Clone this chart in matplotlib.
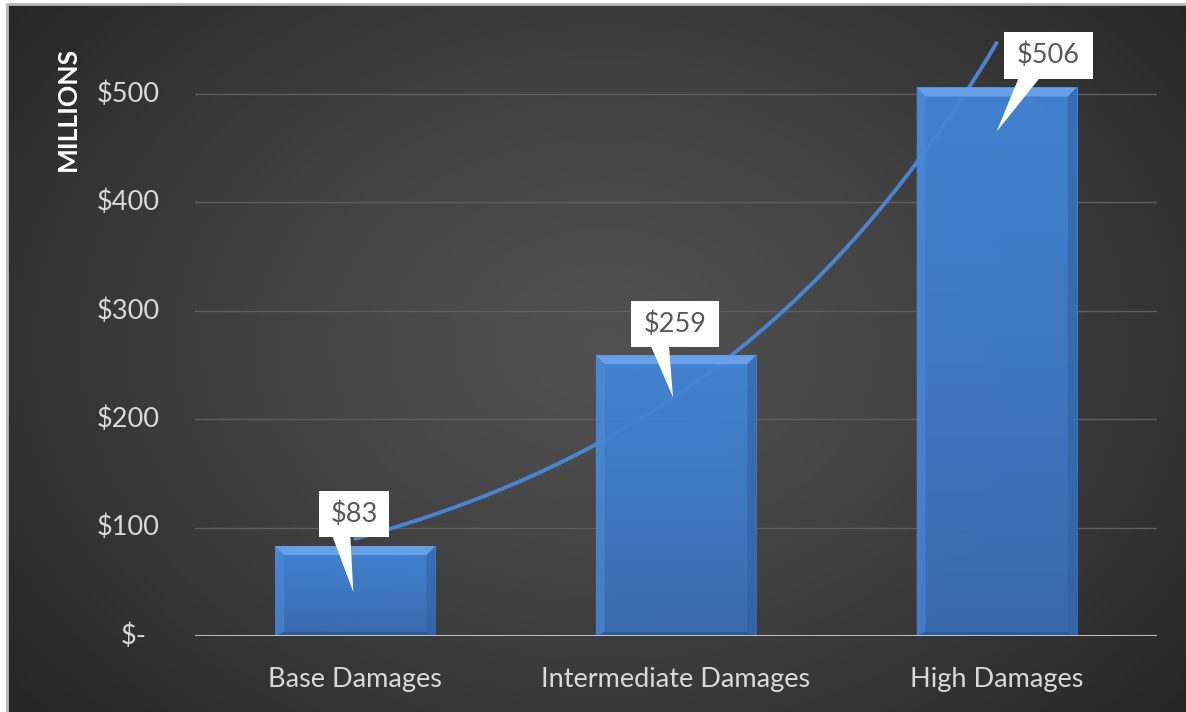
import numpy as np
import matplotlib
matplotlib.use("Agg")
import matplotlib.pyplot as plt
from matplotlib.patches import Polygon, Rectangle
from matplotlib.transforms import IdentityTransform, offset_copy
from matplotlib.colors import LinearSegmentedColormap

# ---- data ----
categories = ["Base Damages", "Intermediate Damages", "High Damages"]
damages = [83, 259, 506]          # $ millions
value_labels = ["$83", "$259", "$506"]
y_ticks = [0, 100, 200, 300, 400, 500]
y_tick_labels = ["$-", "$100", "$200", "$300", "$400", "$500"]

W, H, DPI = 1186, 712, 100
plt.rcParams["font.family"] = ["Lato", "DejaVu Sans"]
FS = 19.5

fig = plt.figure(figsize=(W / DPI, H / DPI), dpi=DPI, facecolor="white")

# ---- radial dark background with thin frame ----
bg = fig.add_axes([0, 0, 1, 1], zorder=0)
bg.set_xlim(0, W)
bg.set_ylim(H, 0)
bg.axis("off")
yy, xx = np.mgrid[0:H, 0:W]
r = np.sqrt(((xx - 600) / 760.0) ** 2 + ((yy - 340) / 560.0) ** 2)
r = np.clip(r, 0, 1)
shade = 0.315 - 0.165 * r ** 1.3
img = np.dstack([shade, shade, shade])
bg.imshow(img, extent=(7, W, H, 4), interpolation="bilinear", aspect="auto")
bg.plot([6.5, 6.5, W], [H, 3.5, 3.5], color="#b8b8b8", lw=2.0)

# ---- main axes ----
ymax = 560
ax = fig.add_axes([195 / W, (H - 636) / H, (1157 - 195) / W, ymax * 1.084 / H], zorder=1)
ax.set_facecolor("none")
ax.set_xlim(-0.5, len(categories) - 0.5)
ax.set_ylim(0, ymax)
for s in ax.spines.values():
    s.set_visible(False)

ax.set_yticks(y_ticks)
ax.set_yticklabels([])
ax.set_xticks(range(len(categories)))
ax.set_xticklabels(categories)
ax.tick_params(axis="both", length=0, labelsize=FS, colors="#d9d9d9")
ax.tick_params(axis="x", pad=22)

# accounting-style y labels: the dash label sits further in from the axis
for v, lab in zip(y_ticks, y_tick_labels):
    shift = -48 if lab == "$-" else -35
    tr = offset_copy(ax.get_yaxis_transform(), fig=fig, x=shift, y=0, units="dots")
    ax.text(0, v, lab, transform=tr, ha="right", va="center", fontsize=FS,
            color="#d9d9d9", clip_on=False)

for v in y_ticks[1:]:
    ax.axhline(v, color="#5e5e5e", lw=1.0, zorder=1)
ax.axhline(0, color="#bdbdbd", lw=2.2, zorder=5)

fig.text(68 / W, 1 - 109 / H, "MILLIONS", rotation=90, color="white",
         fontsize=19, fontweight="bold", ha="center", va="center")

# ---- exponential trend line (least squares on log values) ----
xs = np.arange(len(damages))
b, a = np.polyfit(xs, np.log(damages), 1)
xt = np.linspace(0, len(damages) - 1, 200)
ax.plot(xt, np.exp(a + b * xt), color="#4a84d0", lw=2.8, zorder=2,
        solid_capstyle="round")

# ---- bevelled bars ----
px_x = (1157 - 195) / 3.0          # pixels per category
px_y = 1.084                        # pixels per $1M
bw = 0.5
bev_x = 9 / px_x
bev_y = 9 / px_y
grad = LinearSegmentedColormap.from_list("bar", ["#396eb5", "#3f7ccc", "#4387da"])
for i, v in enumerate(damages):
    x0, x1 = i - bw / 2, i + bw / 2
    ax.imshow(np.linspace(0, 1, 100).reshape(-1, 1), cmap=grad, origin="lower",
              extent=(x0, x1, 0, v), aspect="auto", zorder=3, alpha=0.93,
              interpolation="bilinear")
    bot = bev_y * 0.45
    ax.add_patch(Polygon([(x0, v), (x1, v), (x1 - bev_x, v - bev_y), (x0 + bev_x, v - bev_y)],
                         closed=True, fc="#6aa4ec", ec="none", zorder=4, alpha=0.9))
    ax.add_patch(Polygon([(x0, v), (x0 + bev_x, v - bev_y), (x0 + bev_x, bot), (x0, 0)],
                         closed=True, fc="#4d8ddd", ec="none", zorder=4, alpha=0.55))
    ax.add_patch(Polygon([(x1, v), (x1 - bev_x, v - bev_y), (x1 - bev_x, bot), (x1, 0)],
                         closed=True, fc="#30609f", ec="none", zorder=4, alpha=0.55))
    ax.add_patch(Polygon([(x0, 0), (x1, 0), (x1 - bev_x, bot), (x0 + bev_x, bot)],
                         closed=True, fc="#2c5894", ec="none", zorder=4, alpha=0.8))

ax.set_xlim(-0.5, len(categories) - 0.5)
ax.set_ylim(0, ymax)
fig.canvas.draw()

# ---- callout labels (box offset and tail tip in pixels relative to bar top) ----
callouts = [
    dict(box=(-1, 32), size=(70, 46), base=(-22, -4), tip=(-2, -46)),
    dict(box=(-1, 31), size=(88, 46), base=(-24, -6), tip=(-3, -42)),
    dict(box=(52, 32), size=(89, 47), base=(-30, -9), tip=(0, -44)),
]
for i, (v, lab, c) in enumerate(zip(damages, value_labels, callouts)):
    bx, by = ax.transData.transform((i, v))
    cx, cy = bx + c["box"][0], by + c["box"][1]
    w, h = c["size"]
    ax.add_patch(Rectangle((cx - w / 2, cy - h / 2), w, h, transform=IdentityTransform(),
                           fc="white", ec="none", zorder=6, clip_on=False))
    bl, br = c["base"]
    tx, ty = bx + c["tip"][0], by + c["tip"][1]
    ax.add_patch(Polygon([(cx + bl, cy - h / 2 + 1), (cx + br, cy - h / 2 + 1), (tx, ty)],
                         closed=True, transform=IdentityTransform(), fc="white", ec="none",
                         zorder=6, clip_on=False))
    ax.text(cx, cy, lab, transform=IdentityTransform(), ha="center", va="center",
            fontsize=FS, color="#595959", zorder=7)

fig.savefig("out.png", dpi=DPI, facecolor="white")
